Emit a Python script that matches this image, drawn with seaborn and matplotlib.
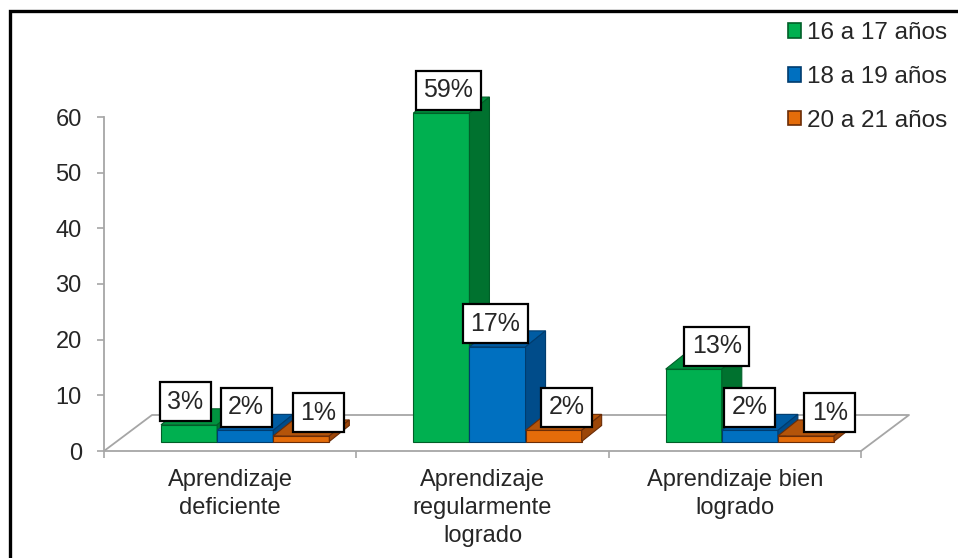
import numpy as np
import pandas as pd
import matplotlib
matplotlib.use("Agg")
import matplotlib.pyplot as plt
from matplotlib.patches import Polygon, Patch, Rectangle
import seaborn as sns

# data
categorias = ["Aprendizaje\ndeficiente", "Aprendizaje\nregularmente\nlogrado", "Aprendizaje bien\nlogrado"]
edades = ["16 a 17 años", "18 a 19 años", "20 a 21 años"]
v_16_17 = [3, 59, 13]
v_18_19 = [2, 17, 2]
v_20_21 = [1, 2, 1]
y_ticks = [0, 10, 20, 30, 40, 50, 60]

# colours: front / top / side / edge for each age group
front_c = ["#00B050", "#0070C0", "#E46C0A"]
top_c = ["#00933F", "#005CA3", "#B4540A"]
side_c = ["#00722F", "#004C8A", "#9C4608"]
edge_c = ["#005F28", "#003C6E", "#6B2C06"]
gray = "#A6A6A6"

# hand placed label boxes in the original: horizontal nudge in px (series x category)
label_nudge = [[-14, -3, 13], [-9, -12, -10], [7, 3, 14]]

rows = []
for edad, vals in zip(edades, [v_16_17, v_18_19, v_20_21]):
    for cat, v in zip(categorias, vals):
        rows.append({"categoria": cat, "edad": edad, "valor": v})
df = pd.DataFrame(rows)

sns.set_style("white")
plt.rcParams["font.family"] = ["Liberation Sans", "DejaVu Sans"]

W, H = 958, 558
fig = plt.figure(figsize=(W / 100, H / 100), dpi=100)
ax = fig.add_axes([104 / W, 1 - 451 / H, (861 - 104) / W, (451 - 117) / H])

sns.barplot(data=df, x="categoria", y="valor", hue="edad", order=categorias,
            hue_order=edades, palette=front_c, width=0.667, saturation=1,
            legend=False, ax=ax)
ax.set_xlim(-0.5, 2.5)
ax.set_ylim(0, 60)

# pixel -> data unit helpers
kx = (861 - 104) / 3.0
ky = (451 - 117) / 60.0
sx, sy = 15 / kx, 9.5 / ky      # front faces sit a bit back on the floor
dx, dy = 20 / kx, 16 / ky       # bar depth
lab_up = 3 / ky

bars = []
for i, cont in enumerate(ax.containers):
    vals = [v_16_17, v_18_19, v_20_21][i]
    for j, (r, v) in enumerate(zip(cont, vals)):
        bars.append((r.get_x(), i, j, r, v))
bars.sort(key=lambda b: b[0])

for rank, (_, i, j, r, v) in enumerate(bars):
    z = 3 + rank * 0.1
    x0 = r.get_x() + sx
    w = r.get_width()
    h = r.get_height()
    r.set_x(x0)
    r.set_y(sy)
    r.set_edgecolor(edge_c[i])
    r.set_linewidth(0.8)
    r.set_zorder(z)
    r.set_clip_on(False)
    top = Polygon([(x0, sy + h), (x0 + w, sy + h), (x0 + w + dx, sy + h + dy), (x0 + dx, sy + h + dy)],
                  closed=True, fc=top_c[i], ec=edge_c[i], lw=0.8, zorder=z, clip_on=False)
    side = Polygon([(x0 + w, sy), (x0 + w + dx, sy + dy), (x0 + w + dx, sy + h + dy), (x0 + w, sy + h)],
                   closed=True, fc=side_c[i], ec=edge_c[i], lw=0.8, zorder=z, clip_on=False)
    ax.add_patch(top)
    ax.add_patch(side)
    ax.text(x0 + w / 2 + dx / 2 + label_nudge[i][j] / kx, sy + h + dy / 2 + lab_up, f"{v}%",
            ha="center", va="bottom", fontsize=18, zorder=20, clip_on=False,
            bbox=dict(boxstyle="square,pad=0.3", fc="white", ec="black", lw=1.6))

# floor outline
fx, fy = 48 / kx, 36 / ky
ax.plot([-0.5, -0.5 + fx, 2.5 + fx, 2.5], [0, fy, fy, 0], color=gray, lw=1.3,
        zorder=1, clip_on=False)

for s in ["top", "right"]:
    ax.spines[s].set_visible(False)
for s in ["left", "bottom"]:
    ax.spines[s].set_color(gray)
    ax.spines[s].set_linewidth(1.3)

ax.set_yticks(y_ticks)
ax.tick_params(axis="y", length=5, width=1.2, color=gray, pad=11, labelsize=17, left=True)
ax.set_xticks(range(3), categorias)
for t in ax.get_xticklabels():
    t.set_linespacing(1.35)
ax.set_xticks([-0.5, 0.5, 1.5, 2.5], minor=True)
ax.tick_params(axis="x", which="major", length=0, pad=13, labelsize=17)
ax.tick_params(axis="x", which="minor", length=5, width=1.2, color=gray, bottom=True)
ax.set_xlabel("")
ax.set_ylabel("")

handles = [Patch(fc=front_c[i], ec=edge_c[i], lw=1.2, label=edades[i]) for i in range(3)]
fig.legend(handles=handles, loc="upper left", bbox_to_anchor=(788 / W, 1 - 22 / H),
           frameon=False, fontsize=17.5, handlelength=0.55, handleheight=0.55,
           handletextpad=0.25, labelspacing=0.9, borderpad=0, borderaxespad=0)

# outer chart frame (only top and left edges fall inside the picture)
fig.patches.append(Rectangle((9.5 / W, -0.1), 1.2, 1.1 - 11 / H, transform=fig.transFigure,
                             fill=False, ec="black", lw=2.4, zorder=0))

fig.savefig("out.png", dpi=100)
